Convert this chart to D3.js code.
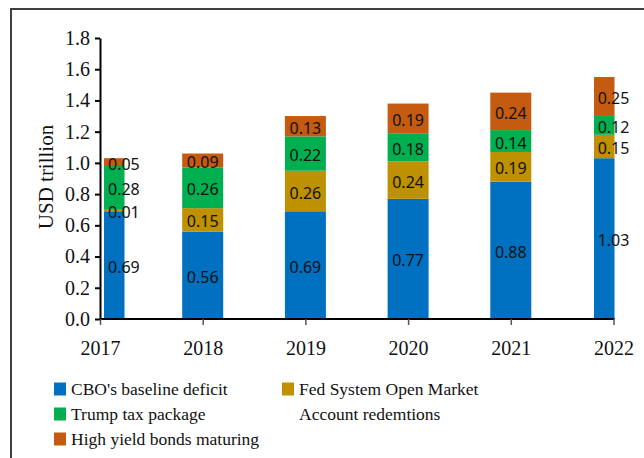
<!DOCTYPE html>
<html>
<head>
<meta charset="utf-8">
<script src="https://cdn.jsdelivr.net/npm/d3@7"></script>
<style>
  html, body { margin: 0; padding: 0; background: #fff; }
  svg { display: block; }
</style>
</head>
<body>
<svg id="chart" width="644" height="458"></svg>
<script>
// ---- data ----
const categories = ["2017", "2018", "2019", "2020", "2021", "2022"];
const cboDeficit   = [0.69, 0.56, 0.69, 0.77, 0.88, 1.03];
const fedRedemptions = [0.01, 0.15, 0.26, 0.24, 0.19, 0.15];
const trumpTax     = [0.28, 0.26, 0.22, 0.18, 0.14, 0.12];
const highYield    = [0.05, 0.09, 0.13, 0.19, 0.24, 0.25];
const seriesKeys   = ["cbo", "fed", "trump", "hy"];
const seriesLabels = ["CBO's baseline deficit", "Fed System Open Market Account redemtions", "Trump tax package", "High yield bonds maturing"];
const seriesColors = ["#0070C0", "#BF9000", "#00B050", "#C55A11"];
const yTickValues  = [0, 0.2, 0.4, 0.6, 0.8, 1.0, 1.2, 1.4, 1.6, 1.8];
const yAxisTitle   = "USD trillion";

const rows = categories.map((c, i) => ({
  cat: c, cbo: cboDeficit[i], fed: fedRedemptions[i], trump: trumpTax[i], hy: highYield[i]
}));

const svg = d3.select("#chart");
const W = 644, H = 458;
const plot = { left: 100, right: 613.5, top: 38, bottom: 319 };

// frame
svg.append("rect").attr("x", 11).attr("y", 9).attr("width", W + 20).attr("height", H + 20)
  .attr("fill", "none").attr("stroke", "#404040").attr("stroke-width", 2);

const x = d3.scalePoint().domain(categories).range([plot.left, plot.right]);
const y = d3.scaleLinear().domain([0, 1.8]).range([plot.bottom, plot.top]);
const color = d3.scaleOrdinal().domain(seriesKeys).range(seriesColors);

const stacked = d3.stack().keys(seriesKeys)(rows);
const bw = 41;
function barExtent(cat) {
  const cx = x(cat);
  let l = cx - bw / 2, r = cx + bw / 2;
  if (l < plot.left + 4) { l = plot.left + 4; r = l + bw / 2; }
  if (r > plot.right + 1) { r = plot.right + 1; l = r - bw / 2; }
  return [l, r];
}

const g = svg.append("g");
stacked.forEach(layer => {
  const lg = g.append("g").attr("fill", color(layer.key));
  lg.selectAll("rect").data(layer).join("rect")
    .attr("x", d => barExtent(d.data.cat)[0])
    .attr("width", d => { const e = barExtent(d.data.cat); return e[1] - e[0]; })
    .attr("y", d => y(d[1]))
    .attr("height", d => y(d[0]) - y(d[1]));
});

// data labels
stacked.forEach(layer => {
  g.append("g").selectAll("text").data(layer).join("text")
    .attr("x", (d, i) => i === 0 ? barExtent(d.data.cat)[0] + 4 : x(d.data.cat))
    .attr("text-anchor", (d, i) => i === 0 ? "start" : "middle")
    .attr("y", d => (y(d[0]) + y(d[1])) / 2 + 2)
    .attr("dy", "0.35em")
    .attr("font-family", "'Noto Sans', 'Liberation Sans', sans-serif")
    .attr("font-size", 16)
    .attr("fill", "#111")
    .text(d => d3.format(".2f")(d[1] - d[0]));
});

// axes
const serif = "'Liberation Serif', 'DejaVu Serif', serif";
const yAxis = svg.append("g").attr("transform", `translate(${plot.left},0)`)
  .call(d3.axisLeft(y).tickValues(yTickValues).tickFormat(d3.format(".1f")).tickSize(5).tickSizeOuter(0).tickPadding(5));
yAxis.select(".domain").attr("stroke", "#000").attr("stroke-width", 2);
yAxis.selectAll(".tick line").attr("stroke", "#000").attr("stroke-width", 2);
yAxis.selectAll("text").attr("font-family", serif).attr("font-size", 20).attr("fill", "#111");

const xAxis = svg.append("g").attr("transform", `translate(0,${plot.bottom})`)
  .call(d3.axisBottom(x).tickSize(6).tickSizeOuter(0).tickPadding(16));
xAxis.select(".domain").attr("stroke", "#000").attr("stroke-width", 2)
  .attr("d", `M${plot.left},0H${plot.right + 1}`);
xAxis.selectAll(".tick line").attr("stroke", "#555").attr("stroke-width", 1.5);
xAxis.selectAll("text").attr("font-family", serif).attr("font-size", 20).attr("fill", "#111");

svg.append("text")
  .attr("transform", `translate(46,177) rotate(-90)`)
  .attr("text-anchor", "middle").attr("dy", "0.35em")
  .attr("font-family", serif).attr("font-size", 21).attr("fill", "#111")
  .text(yAxisTitle);

// legend
const legendItems = [
  { key: "cbo", lines: [seriesLabels[0]], col: 0, row: 0 },
  { key: "trump", lines: [seriesLabels[2]], col: 0, row: 1 },
  { key: "hy", lines: [seriesLabels[3]], col: 0, row: 2 },
  { key: "fed", lines: ["Fed System Open Market", "Account redemtions"], col: 1, row: 0 }
];
const colX = [54, 282], rowY0 = 389, rowH = 25;
const lg = svg.append("g");
legendItems.forEach(it => {
  const gx = colX[it.col], gy = rowY0 + it.row * rowH;
  lg.append("rect").attr("x", gx).attr("y", gy - 6.5).attr("width", 12).attr("height", 13)
    .attr("fill", color(it.key));
  it.lines.forEach((ln, j) => {
    lg.append("text").attr("x", gx + 17).attr("y", gy + j * rowH).attr("dy", "0.35em")
      .attr("font-family", serif).attr("font-size", 17.5).attr("fill", "#111").text(ln);
  });
});
</script>
</body>
</html>
